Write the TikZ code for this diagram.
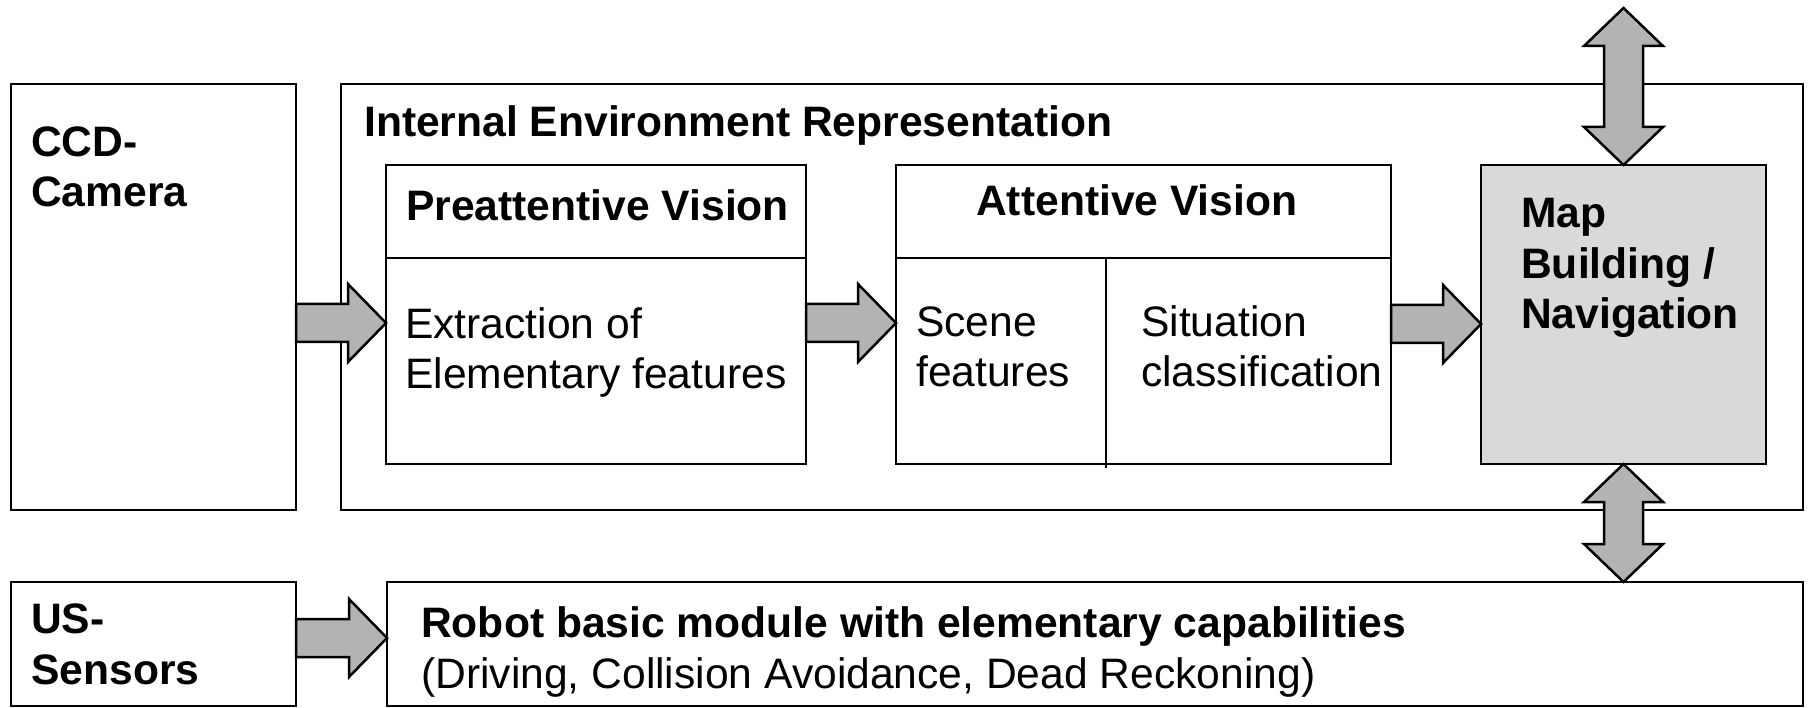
\documentclass[tikz,border=0pt]{standalone}
\usepackage{fontspec}
\setmainfont{Liberation Sans}
\usepackage{tikz}
\usetikzlibrary{calc}

\definecolor{arrowgray}{RGB}{179,179,179}
\definecolor{mapgray}{RGB}{217,217,217}

% block arrow to the right: tail point, tip point
\newcommand{\rightblock}[2]{%
  \draw[blockarrow] let \p1=(#1), \p2=(#2) in
    (\x1,\y1+19) -- (\x2-38,\y1+19) -- (\x2-38,\y1+39) -- (\x2,\y1)
    -- (\x2-38,\y1-39) -- (\x2-38,\y1-19) -- (\x1,\y1-19) -- cycle;}
% block arrow up and down: top tip, bottom tip
\newcommand{\updownblock}[2]{%
  \draw[blockarrow] let \p1=(#1), \p2=(#2) in
    (\x1,\y1) -- (\x1+39.5,\y1-38) -- (\x1+19.5,\y1-38) -- (\x1+19.5,\y2+38)
    -- (\x1+39.5,\y2+38) -- (\x1,\y2) -- (\x1-39.5,\y2+38) -- (\x1-19.5,\y2+38)
    -- (\x1-19.5,\y1-38) -- (\x1-39.5,\y1-38) -- cycle;}

\begin{document}
\begin{tikzpicture}[x=1pt, y=-1pt,
  box/.style={draw, line width=2.5pt, inner sep=0pt, outer sep=0pt, anchor=north west},
  txt/.style={anchor=base west, inner sep=0pt, align=left, font=\fontsize{42.6}{50.5}\selectfont},
  btxt/.style={txt, font=\fontsize{42.6}{50.5}\selectfont\bfseries},
  blockarrow/.style={draw, line width=2.5pt, fill=arrowgray, line join=miter}]

  \useasboundingbox (0,0) rectangle (1808,708);

  % Draw boxes
  \node (ccd) [box, minimum width=285pt, minimum height=426pt] at (11,84) {};
  \node (ier) [box, minimum width=1462pt, minimum height=426pt] at (341,84) {};
  \node (pre) [box, minimum width=420pt, minimum height=299pt] at (386,165) {};
  \node (att) [box, minimum width=495pt, minimum height=299pt] at (896,165) {};
  \node (map) [box, fill=mapgray, minimum width=285pt, minimum height=299pt] at (1481,165) {};
  \node (us) [box, minimum width=285pt, minimum height=124pt] at (11,582) {};
  \node (robot) [box, minimum width=1416pt, minimum height=124pt] at (387,582) {};

  % Draw dividers
  \draw[line width=2.5pt] (pre.west |- 0,258) -- (pre.east |- 0,258);
  \draw[line width=2.5pt] (att.west |- 0,258) -- (att.east |- 0,258);
  \draw[line width=2.5pt] (1106,258) -- (1106,468);

  % Draw texts (base = last line)
  \node (ccdtxt) [btxt] at (31,207) {CCD-\\Camera};
  \node (iertxt) [btxt] at (364,137) {Internal Environment Representation};
  \node (pretitle) [btxt] at (406,221) {Preattentive Vision};
  \node (pretxt) [txt] at (405,389) {Extraction of\\Elementary features};
  \node (atttitle) [btxt] at (976,216) {Attentive Vision};
  \node (scenetxt) [txt] at (916,387) {Scene\\features};
  \node (sittxt) [txt] at (1141,387) {Situation\\classification};
  \node (maptxt) [btxt] at (1521,329) {Map\\Building /\\Navigation};
  \node (ustxt) [btxt] at (31,684) {US-\\Sensors};
  \node (robottxt) [txt] at (421,688) {\textbf{Robot basic module with elementary capabilities}\\(Driving, Collision Avoidance, Dead Reckoning)};

  % Draw arrows
  \rightblock{ccd.east |- 0,323}{pre.west |- 0,323}
  \rightblock{pre.east |- 0,323}{att.west |- 0,323}
  \rightblock{att.east |- 0,324}{map.west |- 0,324}
  \rightblock{us.east |- 0,638}{robot.west |- 0,638}
  \updownblock{map.north |- 0,8}{map.north}
  \updownblock{map.south}{map.south |- robot.north}

\end{tikzpicture}
\end{document}
